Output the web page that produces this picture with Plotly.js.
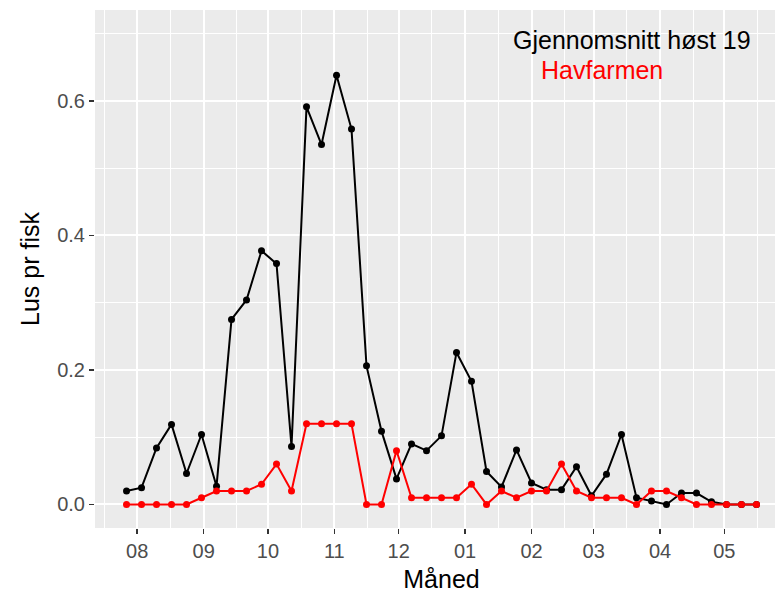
<!DOCTYPE html>
<html>
<head>
<meta charset="utf-8">
<script src="https://cdn.plot.ly/plotly-3.0.1.min.js"></script>
<style>
html, body { margin: 0; padding: 0; overflow: hidden; background: #fff; }
#chart { width: 788px; height: 593px; }
</style>
</head>
<body>
<div id="chart"></div>
<script>
// Weekly observation dates
const dates = [
  '2019-07-27','2019-08-03','2019-08-10','2019-08-17','2019-08-24','2019-08-31',
  '2019-09-07','2019-09-14','2019-09-21','2019-09-28',
  '2019-10-05','2019-10-12','2019-10-19','2019-10-26',
  '2019-11-02','2019-11-09','2019-11-16','2019-11-23','2019-11-30',
  '2019-12-07','2019-12-14','2019-12-21','2019-12-28',
  '2020-01-04','2020-01-11','2020-01-18','2020-01-25',
  '2020-02-01','2020-02-08','2020-02-15','2020-02-22','2020-02-29',
  '2020-03-07','2020-03-14','2020-03-21','2020-03-28',
  '2020-04-04','2020-04-11','2020-04-18','2020-04-25',
  '2020-05-02','2020-05-09','2020-05-16'
];

// Gjennomsnitt høst 19 (black)
const snitt = [
  0.020, 0.025, 0.084, 0.119, 0.046, 0.104,
  0.027, 0.275, 0.304, 0.377,
  0.358, 0.086, 0.591, 0.535,
  0.638, 0.558, 0.206, 0.109, 0.038,
  0.090, 0.080, 0.102, 0.226,
  0.183, 0.049, 0.026, 0.081,
  0.032, 0.022, 0.022, 0.056, 0.013,
  0.045, 0.104, 0.010, 0.005,
  0.000, 0.017, 0.017, 0.004,
  0.000, 0.000, 0.000
];

// Havfarmen (red)
const havfarmen = [
  0.00, 0.00, 0.00, 0.00, 0.00, 0.01,
  0.02, 0.02, 0.02, 0.03,
  0.06, 0.02, 0.12, 0.12,
  0.12, 0.12, 0.00, 0.00, 0.08,
  0.01, 0.01, 0.01, 0.01,
  0.03, 0.00, 0.02, 0.01,
  0.02, 0.02, 0.06, 0.02, 0.01,
  0.01, 0.01, 0.00, 0.02,
  0.02, 0.01, 0.00, 0.00,
  0.00, 0.00, 0.00
];

const monthTicks = ['2019-08-01','2019-09-01','2019-10-01','2019-11-01','2019-12-01',
                    '2020-01-01','2020-02-01','2020-03-01','2020-04-01','2020-05-01'];
const monthLabels = ['08','09','10','11','12','01','02','03','04','05'];

const yTicks = [0, 0.2, 0.4, 0.6];
const yLabels = ['0.0', '0.2', '0.4', '0.6'];

const FONT = 'Liberation Sans, Arial, sans-serif';

const traces = [
  {
    x: dates, y: snitt, type: 'scatter', mode: 'lines+markers',
    line: { color: '#000000', width: 2 },
    marker: { color: '#000000', size: 7 },
    showlegend: false, hoverinfo: 'skip'
  },
  {
    x: dates, y: havfarmen, type: 'scatter', mode: 'lines+markers',
    line: { color: '#FF0000', width: 2 },
    marker: { color: '#FF0000', size: 7 },
    showlegend: false, hoverinfo: 'skip'
  }
];

const layout = {
  width: 788, height: 593,
  margin: { l: 95, r: 0, t: 10, b: 65, pad: 0 },
  paper_bgcolor: '#FFFFFF',
  plot_bgcolor: '#EBEBEB',
  font: { family: FONT, color: '#000000' },
  showlegend: false,
  xaxis: {
    type: 'date',
    range: ['2019-07-12 07:00', '2020-05-30 17:00'],
    tickmode: 'array', tickvals: monthTicks, ticktext: monthLabels,
    ticks: 'outside', ticklen: 5, tickwidth: 1.5, tickcolor: '#333333',
    tickfont: { family: FONT, size: 20, color: '#4D4D4D' },
    showgrid: true, gridcolor: '#FFFFFF', gridwidth: 2,
    minor: { dtick: 'M1', tick0: '2019-07-16 12:00', showgrid: true, gridcolor: '#FFFFFF', gridwidth: 1 },
    zeroline: false, showline: false,
    title: { text: 'Måned', font: { family: FONT, size: 25, color: '#000000' }, standoff: 12 }
  },
  yaxis: {
    range: [-0.035, 0.735],
    tickmode: 'array', tickvals: yTicks, ticktext: yLabels,
    ticks: 'outside', ticklen: 5, tickwidth: 1.5, tickcolor: '#333333',
    tickfont: { family: FONT, size: 20, color: '#4D4D4D' },
    showgrid: true, gridcolor: '#FFFFFF', gridwidth: 2,
    minor: { dtick: 0.1, tick0: 0, showgrid: true, gridcolor: '#FFFFFF', gridwidth: 1 },
    zeroline: false, showline: false,
    title: { text: 'Lus pr fisk', font: { family: FONT, size: 25, color: '#000000' }, standoff: 10 }
  },
  annotations: [
    { x: '2020-03-19', y: 0.691, xref: 'x', yref: 'y', text: 'Gjennomsnitt høst 19',
      showarrow: false, xanchor: 'center', yanchor: 'middle',
      font: { family: FONT, size: 25, color: '#000000' } },
    { x: '2020-03-05', y: 0.646, xref: 'x', yref: 'y', text: 'Havfarmen',
      showarrow: false, xanchor: 'center', yanchor: 'middle',
      font: { family: FONT, size: 25, color: '#FF0000' } }
  ]
};

Plotly.newPlot('chart', traces, layout, { staticPlot: true, displayModeBar: false });
</script>
</body>
</html>
